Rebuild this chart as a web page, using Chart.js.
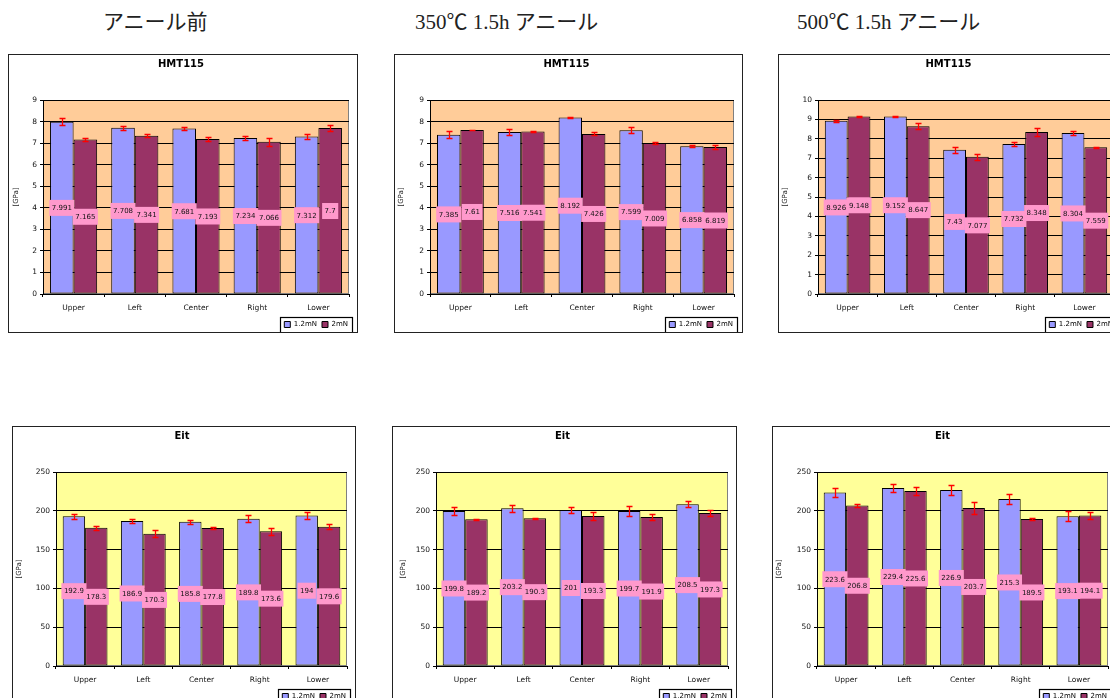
<!DOCTYPE html>
<html>
<head>
<meta charset="utf-8">
<script src="https://cdn.jsdelivr.net/npm/chart.js@4"></script>
<style>
    html, body { margin: 0; padding: 0; background: #fff; }
    body { position: relative; width: 1110px; height: 698px; overflow: hidden; }
    .heading {
        position: absolute; top: 8px; line-height: 28px; white-space: nowrap;
        font-family: "Liberation Serif", "Noto Sans CJK JP", serif; font-size: 21px; color: #222;
    }
    .box { position: absolute; border: 1px solid #222; background: #fff; }
    .box canvas { display: block; }
</style>
</head>
<body>
<div class="heading" style="left:103px">アニール前</div>
<div class="heading" style="left:415px">350℃ 1.5h アニール</div>
<div class="heading" style="left:797px">500℃ 1.5h アニール</div>

<div class="box" style="left:8px;top:54px"><canvas id="hmt-before" width="348" height="277"></canvas></div>
<div class="box" style="left:394px;top:54px"><canvas id="hmt-350" width="347" height="277"></canvas></div>
<div class="box" style="left:778px;top:54px"><canvas id="hmt-500" width="343" height="277"></canvas></div>
<div class="box" style="left:12px;top:426px"><canvas id="eit-before" width="342" height="277"></canvas></div>
<div class="box" style="left:392px;top:426px"><canvas id="eit-350" width="343" height="277"></canvas></div>
<div class="box" style="left:772px;top:426px"><canvas id="eit-500" width="343" height="277"></canvas></div>

<script>
// measuring positions and indentation loads
const positions = ['Upper', 'Left', 'Center', 'Right', 'Lower'];
const loads = ['1.2mN', '2mN'];

// HMT115 [GPa]
const hmtBefore12 = [7.991, 7.708, 7.681, 7.234, 7.312];
const hmtBefore2 = [7.165, 7.341, 7.193, 7.066, 7.7];
const hmtBeforeErr12 = [0.16, 0.10, 0.06, 0.09, 0.13];
const hmtBeforeErr2 = [0.07, 0.08, 0.10, 0.18, 0.12];

const hmt350_12 = [7.385, 7.516, 8.192, 7.599, 6.858];
const hmt350_2 = [7.61, 7.541, 7.426, 7.009, 6.819];
const hmt350Err12 = [0.16, 0.16, 0.03, 0.13, 0.06];
const hmt350Err2 = [0.01, 0.01, 0.07, 0.05, 0.10];

const hmt500_12 = [8.926, 9.152, 7.43, 7.732, 8.304];
const hmt500_2 = [9.148, 8.647, 7.077, 8.348, 7.559];
const hmt500Err12 = [0.06, 0.04, 0.15, 0.12, 0.12];
const hmt500Err2 = [0.04, 0.16, 0.16, 0.19, 0.01];

// Eit [GPa]
const eitBefore12 = [192.9, 186.9, 185.8, 189.8, 194];
const eitBefore2 = [178.3, 170.3, 177.8, 173.6, 179.6];
const eitBeforeErr12 = [3.5, 2.6, 2.6, 4.4, 4.4];
const eitBeforeErr2 = [2.6, 4.4, 1.7, 4.4, 3.5];

const eit350_12 = [199.8, 203.2, 201, 199.7, 208.5];
const eit350_2 = [189.2, 190.3, 193.3, 191.9, 197.3];
const eit350Err12 = [5.2, 4.3, 4.1, 6.7, 4.1];
const eit350Err2 = [0.5, 0.5, 5.2, 3.5, 4.3];

const eit500_12 = [223.6, 229.4, 226.9, 215.3, 193.1];
const eit500_2 = [206.8, 225.6, 203.7, 189.5, 194.1];
const eit500Err12 = [5.2, 5.2, 6.7, 6.9, 6.5];
const eit500Err2 = [2.4, 5.2, 7.8, 1.7, 4.8];

Chart.defaults.font.family = '"DejaVu Sans", Arial, sans-serif';
Chart.defaults.animation = false;

// Fill the plot area (Excel style)
const plotBackground = {
    id: 'plotBackground',
    beforeDraw(chart, args, opts) {
        const { ctx, chartArea: a } = chart;
        ctx.save();
        ctx.fillStyle = opts.color;
        ctx.fillRect(a.left, a.top, a.right - a.left, a.bottom - a.top);
        ctx.strokeStyle = '#808080';
        ctx.lineWidth = 1;
        ctx.strokeRect(a.left + 0.5, a.top + 0.5, a.right - a.left - 1, a.bottom - a.top - 1);
        ctx.restore();
    }
};

// Red error bars, read from dataset.errors
const errorBars = {
    id: 'errorBars',
    afterDatasetsDraw(chart) {
        const { ctx } = chart;
        const y = chart.scales.y;
        ctx.save();
        ctx.strokeStyle = '#FF0000';
        ctx.lineWidth = 1.3;
        chart.data.datasets.forEach((ds, i) => {
            chart.getDatasetMeta(i).data.forEach((bar, j) => {
                const v = ds.data[j];
                const e = ds.errors[j];
                const top = Math.round(y.getPixelForValue(v + e)) + 0.5;
                const bottom = Math.round(y.getPixelForValue(v - e)) + 0.5;
                const x = Math.round(bar.x) + 0.5;
                ctx.beginPath();
                ctx.moveTo(x, top); ctx.lineTo(x, bottom);
                ctx.moveTo(x - 3, top); ctx.lineTo(x + 3, top);
                ctx.moveTo(x - 3, bottom); ctx.lineTo(x + 3, bottom);
                ctx.stroke();
            });
        });
        ctx.restore();
    }
};

// Pink value boxes at mid height of every bar
const valueLabels = {
    id: 'valueLabels',
    afterDatasetsDraw(chart) {
        const { ctx } = chart;
        const y = chart.scales.y;
        ctx.save();
        ctx.font = '7px "DejaVu Sans", Arial, sans-serif';
        ctx.textAlign = 'center';
        ctx.textBaseline = 'middle';
        chart.data.datasets.forEach((ds, i) => {
            chart.getDatasetMeta(i).data.forEach((bar, j) => {
                const v = ds.data[j];
                const text = String(v);
                const w = ctx.measureText(text).width + 5;
                const cy = y.getPixelForValue(v / 2);
                ctx.fillStyle = '#FF99CC';
                ctx.fillRect(bar.x - w / 2, cy - 8, w, 16);
                ctx.fillStyle = '#111';
                ctx.fillText(text, bar.x, cy + 0.5);
            });
        });
        ctx.restore();
    }
};

// Frame around the legend items
const legendFrame = {
    id: 'legendFrame',
    afterDraw(chart) {
        const boxes = chart.legend && chart.legend.legendHitBoxes;
        if (!boxes || !boxes.length) return;
        const left = Math.min(...boxes.map(b => b.left)) - 4;
        const right = Math.max(...boxes.map(b => b.left + b.width)) + 4;
        const cy = boxes[0].top + boxes[0].height / 2;
        const { ctx } = chart;
        ctx.save();
        ctx.strokeStyle = '#000';
        ctx.lineWidth = 1.2;
        ctx.strokeRect(Math.round(left) + 0.5, Math.round(cy - 8) + 0.5, Math.round(right - left), 16);
        ctx.restore();
    }
};

function makeChart(canvasId, spec) {
    const ctx = document.getElementById(canvasId);
    return new Chart(ctx, {
        type: 'bar',
        data: {
            labels: positions,
            datasets: [
                {
                    label: loads[0],
                    data: spec.a,
                    errors: spec.ea,
                    backgroundColor: '#9999FF',
                    borderColor: '#000000',
                    borderWidth: 1,
                    borderSkipped: false,
                    yAxisID: 'y'
                },
                {
                    label: loads[1],
                    data: spec.b,
                    errors: spec.eb,
                    backgroundColor: '#993366',
                    borderColor: '#000000',
                    borderWidth: 1,
                    borderSkipped: false,
                    yAxisID: 'y'
                }
            ]
        },
        options: {
            responsive: false,
            categoryPercentage: 0.77,
            barPercentage: 1.0,
            layout: { padding: { top: 0, right: 4, bottom: -6, left: 0 } },
            plugins: {
                plotBackground: { color: spec.bg },
                title: {
                    display: true,
                    text: spec.title,
                    color: '#000',
                    font: { size: 10, weight: 'bold' },
                    padding: { top: 3, bottom: 30 }
                },
                legend: {
                    display: true,
                    position: 'bottom',
                    align: 'end',
                    labels: {
                        boxWidth: 6,
                        boxHeight: 6,
                        color: '#000',
                        font: { size: 7 },
                        padding: 5
                    }
                },
                tooltip: { enabled: false }
            },
            scales: {
                x: {
                    grid: { display: true, drawOnChartArea: false, drawTicks: true, tickLength: 3, color: '#000' },
                    border: { color: '#000' },
                    ticks: { color: '#111', font: { size: 7.5 }, padding: 7, maxRotation: 0 },
                    afterFit: s => { s.height = 22; }
                },
                y: {
                    min: 0,
                    max: spec.max,
                    ticks: { stepSize: spec.step, color: '#111', font: { size: 7.5 }, padding: 3 },
                    grid: { color: '#000', tickLength: 3 },
                    border: { color: '#000' },
                    title: {
                        display: true,
                        text: '[GPa]',
                        color: '#222',
                        font: { size: 7 },
                        padding: { top: spec.yTitle, bottom: 0 }
                    },
                    afterFit: s => { s.width = spec.yWidth; }
                },
                // keeps a small gap right of the plot area
                y2: {
                    position: 'right',
                    display: true,
                    grid: { display: false },
                    border: { display: false },
                    ticks: { display: false },
                    afterFit: s => { s.width = 4; }
                }
            }
        },
        plugins: [plotBackground, errorBars, valueLabels, legendFrame]
    });
}

makeChart('hmt-before', { title: 'HMT115', a: hmtBefore12, b: hmtBefore2, ea: hmtBeforeErr12, eb: hmtBeforeErr2, max: 9, step: 1, bg: '#FFCC99', yWidth: 34, yTitle: 3 });
makeChart('hmt-350', { title: 'HMT115', a: hmt350_12, b: hmt350_2, ea: hmt350Err12, eb: hmt350Err2, max: 9, step: 1, bg: '#FFCC99', yWidth: 35, yTitle: 2 });
makeChart('hmt-500', { title: 'HMT115', a: hmt500_12, b: hmt500_2, ea: hmt500Err12, eb: hmt500Err2, max: 10, step: 1, bg: '#FFCC99', yWidth: 39, yTitle: 2 });
makeChart('eit-before', { title: 'Eit', a: eitBefore12, b: eitBefore2, ea: eitBeforeErr12, eb: eitBeforeErr2, max: 250, step: 50, bg: '#FFFF99', yWidth: 43, yTitle: 2 });
makeChart('eit-350', { title: 'Eit', a: eit350_12, b: eit350_2, ea: eit350Err12, eb: eit350Err2, max: 250, step: 50, bg: '#FFFF99', yWidth: 43, yTitle: 6 });
makeChart('eit-500', { title: 'Eit', a: eit500_12, b: eit500_2, ea: eit500Err12, eb: eit500Err2, max: 250, step: 50, bg: '#FFFF99', yWidth: 44, yTitle: 2 });
</script>
</body>
</html>
